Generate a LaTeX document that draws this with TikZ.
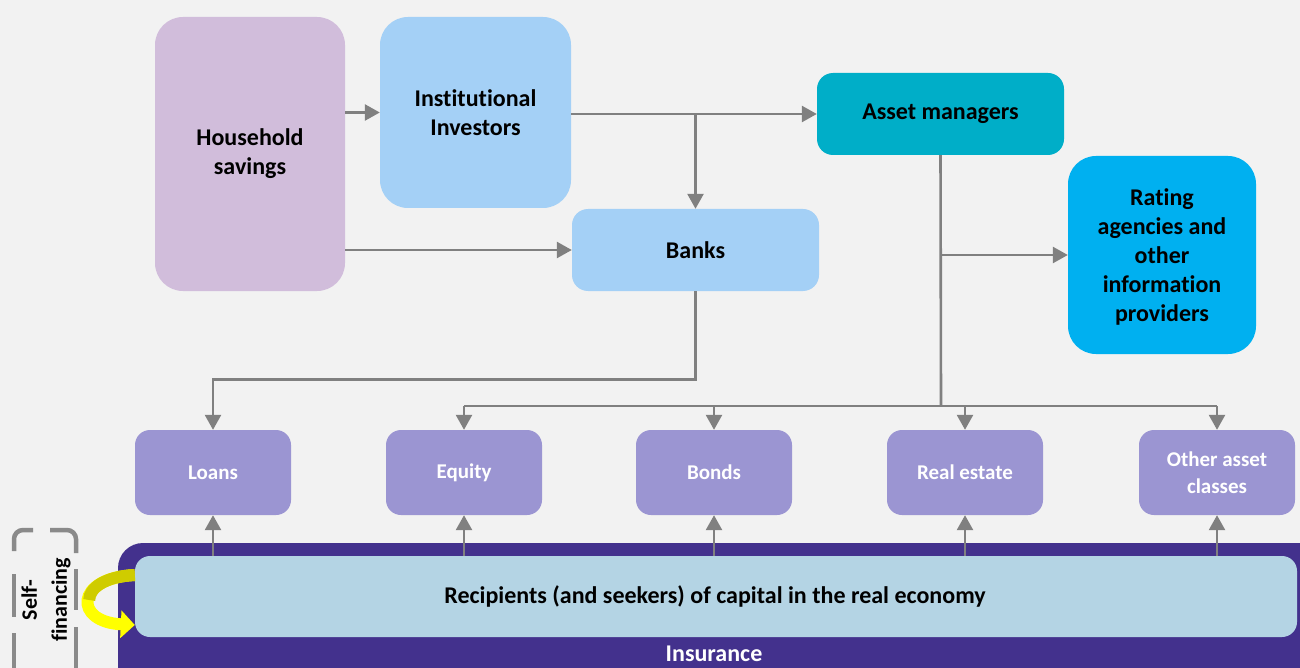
\documentclass[tikz,border=0pt]{standalone}
\usepackage{fontspec}
\setmainfont{Carlito}[Ligatures={NoCommon}]
\usetikzlibrary{arrows.meta}
\definecolor{bgc}{HTML}{F2F2F2}
\definecolor{hhc}{HTML}{D1BDDB}
\definecolor{instc}{HTML}{A4D0F6}
\definecolor{amc}{HTML}{00AEC8}
\definecolor{ratc}{HTML}{00B0F0}
\definecolor{smc}{HTML}{9B95D2}
\definecolor{insc}{HTML}{43318D}
\definecolor{recc}{HTML}{B4D4E4}
\definecolor{arrc}{HTML}{808080}
\definecolor{brc}{HTML}{8A8A8A}
\definecolor{olivey}{HTML}{CFCC00}
\definecolor{brighty}{HTML}{FFFF00}
\tikzset{
  bigbox/.style={rectangle, rounded corners=28pt, inner sep=0pt, align=center,
    font=\bfseries\fontsize{24}{29}\selectfont, text=black},
  midbox/.style={rectangle, rounded corners=16pt, inner sep=0pt, align=center,
    font=\bfseries\fontsize{24}{29}\selectfont, text=black},
  assetbox/.style={rectangle, rounded corners=15pt, fill=smc, inner sep=0pt,
    minimum width=156pt, minimum height=85pt, align=center,
    font=\bfseries\fontsize{21}{27}\selectfont, text=white},
  conn/.style={draw=arrc, line width=2.6pt},
  arr/.style={conn, -{Triangle[length=15pt,width=16pt]}},
  bracket/.style={draw=brc, line width=4.5pt, rounded corners=9pt},
}
\begin{document}
\begin{tikzpicture}[x=1pt,y=-1pt]
\useasboundingbox (0,0) rectangle (1300,668);
\fill[bgc] (0,0) rectangle (1300,668);

% top boxes
\node[bigbox, fill=hhc, minimum width=190pt, minimum height=274pt] (hh) at (250,154) {Household\\savings};
\node[bigbox, fill=instc, minimum width=191pt, minimum height=191pt] (inst) at (475.5,112.5) {Institutional\\Investors};
\node[midbox, fill=instc, minimum width=247pt, minimum height=82pt] (banks) at (695.5,250) {Banks};
\node[midbox, fill=amc, minimum width=247pt, minimum height=82pt] (am) at (940.5,114) {Asset managers};
\node[bigbox, fill=ratc, minimum width=188pt, minimum height=198pt] (rating) at (1162,255) {};
\node[align=center, font=\bfseries\fontsize{24}{29}\selectfont] (ratingtext) at (1162,257) {Rating\\agencies and\\other\\information\\providers};

% asset boxes
\node[assetbox] (loans) at (213,472.5) {Loans};
\node[assetbox] (equity) at (464,472.5) {Equity};
\node[assetbox] (bonds) at (714,472.5) {Bonds};
\node[assetbox] (realestate) at (965,472.5) {Real estate};
\node[assetbox] (other) at (1217,472.5) {Other asset\\classes};

% insurance and recipients
\fill[insc, rounded corners=25pt] (118,543) rectangle (1330,700);
\node[font=\bfseries\fontsize{24}{29}\selectfont, text=white] (ins) at (714,654) {Insurance};
\node[rectangle, rounded corners=15pt, fill=recc, inner sep=0pt, minimum width=1162pt, minimum height=81pt] (recip) at (716,596.5) {};
\node[font=\bfseries\fontsize{24}{29}\selectfont] (reciptext) at (715,596) {Recipients (and seekers) of capital in the real economy};

% connectors
\draw[arr] (hh.east |- inst.west) -- (inst.west);
\draw[arr] (hh.east |- banks.west) -- (banks.west);
\draw[arr] (inst.east |- am.west) -- (am.west);
\draw[arr] (banks.north |- am.west) -- (banks.north);
\draw[arr] (banks.south) -- ++(0,88) -| (loans.north);
\coordinate (bus) at (941,406);
\draw[conn] (am.south) -- (bus);
\draw[arr] (bus |- rating.west) -- (rating.west);
\draw[conn] (equity.north |- bus) -- (other.north |- bus);
\draw[arr] (equity.north |- bus) -- (equity.north);
\draw[arr] (bonds.north |- bus) -- (bonds.north);
\draw[arr] (realestate.north |- bus) -- (realestate.north);
\draw[arr] (other.north |- bus) -- (other.north);

\foreach \b in {loans,equity,bonds,realestate,other}
  \draw[arr] (\b.south |- recip.north) -- (\b.south);

% self-financing bracket (dashed rounded frame)
\draw[bracket] (14,551) -- (14,530) -- (33,530);
\draw[bracket] (50,530) -- (76,530) -- (76,553);
\draw[bracket] (14,574) -- (14,617);
\draw[bracket] (14,633) -- (14,680);
\draw[bracket] (76,569) -- (76,610);
\draw[bracket] (76,627) -- (76,680);
\node[rotate=90, align=center, font=\bfseries\fontsize{22}{30}\selectfont] (selffin) at (46,600) {Self-\\financing};

% yellow arrow
\coordinate (ys) at ([yshift=21.5pt]recip.west);
\coordinate (ye) at ([yshift=-28.5pt]recip.west);
\draw[brighty, line width=12pt, -{Triangle[length=14pt,width=27pt]}]
  (ys) .. controls (74,578) and (74,622) .. (ye);
\draw[olivey, line width=12pt]
  (ys) .. controls (104.5,576.5) and (89.25,588.25) .. (89.25,600);
\end{tikzpicture}
\end{document}
